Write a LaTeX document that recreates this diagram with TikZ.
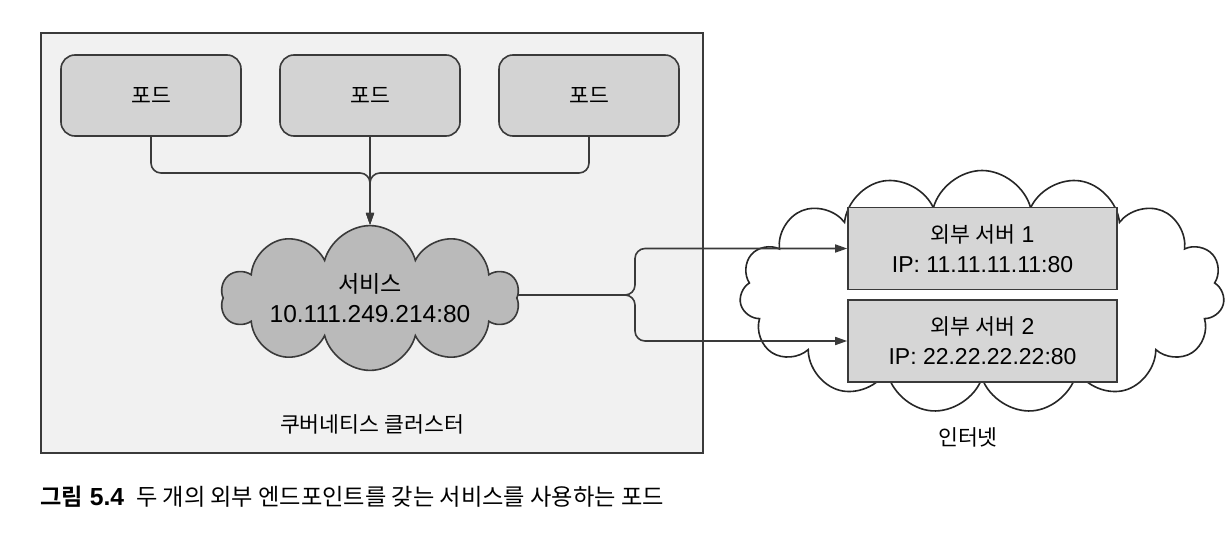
\documentclass[tikz,border=0pt]{standalone}
\usepackage{fontspec}
\setmainfont{Liberation Sans}
\newfontfamily\kr[Scale=0.94,BoldFont={Noto Sans CJK KR Bold}]{Noto Sans CJK KR}
\usetikzlibrary{arrows.meta,shapes.symbols}
\pgfdeclarelayer{background}
\pgfsetlayers{background,main}
\definecolor{linegray}{HTML}{3A3A3A}
\definecolor{clusterfill}{HTML}{F1F1F1}
\definecolor{podfill}{HTML}{D3D3D3}
\definecolor{svcfill}{HTML}{BABABA}
\definecolor{serverfill}{HTML}{D6D6D6}
\tikzstyle{pod}=[rectangle, draw=linegray
,fill=podfill
,rounded corners=14pt
,line width=1.6pt
,minimum width=180pt, minimum height=81pt
]
\tikzstyle{server}=[rectangle, draw=linegray, fill=serverfill, line width=1.6pt
,minimum width=269pt, minimum height=82pt, align=center
]
\tikzstyle{puff}=[cloud, cloud ignores aspect, line width=1.6pt]
\tikzstyle{edge} = [draw=linegray, line width=1.6pt, rounded corners=10pt]
\tikzstyle{edgearrow} = [edge, -{Triangle[length=12pt,width=8pt]}]

\begin{document}
\begin{tikzpicture}[x=1pt,y=-1pt,font=\fontsize{23}{30}\selectfont]
    \useasboundingbox (0,0) rectangle (1226,541);
    % First the pods in the cluster
    \foreach \x/\name in {151/pod1, 370/pod2, 589/pod3}
        \node[pod] (\name) at (\x,95.5) {\kr 포드};

    % the service cloud
    \node[puff, cloud puffs=10, draw=linegray, fill=svcfill
        ,minimum width=298pt, minimum height=144pt, align=center
        ,font=\fontsize{24.5}{30}\selectfont] (svc) at (370,298)
        {{\kr 서비스}\\10.111.249.214:80};

    % the two external servers
    \node[server] (srv1) at (982.5,248.5) {{\kr 외부 서버} 1\\IP: 11.11.11.11:80};
    \node[server] (srv2) at (982.5,341) {{\kr 외부 서버} 2\\IP: 22.22.22.22:80};

    % labels and caption
    \node (clusterlabel) at (372,424) {\kr 쿠버네티스 클러스터};
    \node (netlabel) at (968,437) {\kr 인터넷};
    \node[anchor=west, inner sep=0pt, font=\fontsize{24.7}{30}\selectfont] (caption) at (40,497)
        {{\kr\bfseries 그림} \textbf{5.4}\hspace{12pt}{\kr 두 개의 외부 엔드포인트를 갖는 서비스를 사용하는 포드}};

    \coordinate (split) at (635,295);

    \begin{pgfonlayer}{background}
        \fill[white] (0,0) rectangle (1226,541);
        \node[draw=linegray, fill=clusterfill, line width=1.6pt, anchor=north west
            ,minimum width=662pt, minimum height=420pt] (cluster) at (40,32) {};
        \node[puff, cloud puffs=15, draw=black!85, fill=white
            ,minimum width=485pt, minimum height=243pt] (net) at (982,292) {};

        % Connect pods to the service
        \foreach \name in {pod1, pod3}
            \path[edgearrow] (\name.south) |- (svc.north |- 0,173) -- (svc.north);
        \path[edgearrow] (pod2.south) -- (svc.north);

        % Connect the service to the servers
        \foreach \dest in {srv1, srv2}
            \path[edgearrow] ([yshift=3pt]svc.center) -- (split) |- (\dest.west);
    \end{pgfonlayer}
\end{tikzpicture}
\end{document}
